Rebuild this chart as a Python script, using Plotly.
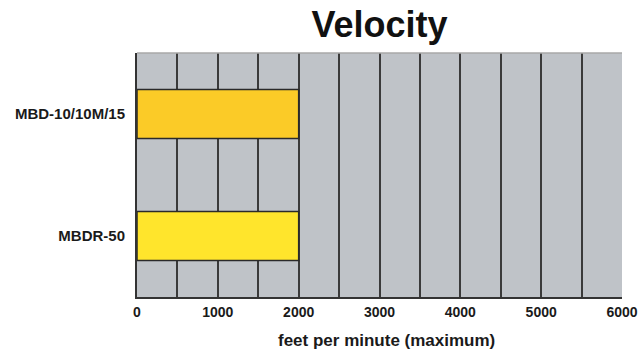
import plotly.graph_objects as go

categories = ["MBD-10/10M/15", "MBDR-50"]
velocity = [2000, 2000]
bar_colors = ["#FBCB27", "#FFE52C"]
x_ticks = [0, 1000, 2000, 3000, 4000, 5000, 6000]

fig = go.Figure()
fig.add_trace(go.Bar(
    y=categories,
    x=velocity,
    orientation="h",
    width=0.4,
    marker=dict(color=bar_colors, line=dict(color="#2a2a2a", width=1.5)),
    hoverinfo="skip",
))

font = "Liberation Sans, Arial, Helvetica, sans-serif"
fig.update_layout(
    width=640, height=354,
    margin=dict(l=137, r=18, t=53, b=57, autoexpand=False),
    paper_bgcolor="white",
    plot_bgcolor="#BFC3C8",
    showlegend=False,
    title=dict(text="<b>Velocity</b>", x=0.5, xref="paper", xanchor="center",
               y=0.93, yanchor="middle", yref="container",
               font=dict(family=font, size=36, color="#111111")),
    xaxis=dict(
        range=[0, 6000],
        tickvals=x_ticks,
        ticktext=["<b>%d</b>" % v for v in x_ticks],
        showgrid=True,
        gridcolor="#3a3a3a",
        gridwidth=1.5,
        minor=dict(dtick=500, tick0=0, showgrid=True, gridcolor="#3a3a3a", gridwidth=1.5),
        showline=True, linecolor="#333333", linewidth=2,
        ticks="", zeroline=False, automargin=False,
        ticklabelstandoff=1,
        tickfont=dict(family=font, size=14, color="#1a1a1a"),
        fixedrange=True,
    ),
    yaxis=dict(
        categoryorder="array", categoryarray=categories,
        autorange="reversed",
        showgrid=False, zeroline=False, automargin=False,
        showline=True, linecolor="#333333", linewidth=2,
        ticks="", ticklabelstandoff=7,
        tickvals=categories,
        ticktext=["<b>%s</b>" % c for c in categories],
        tickfont=dict(family=font, size=15, color="#1a1a1a"),
        fixedrange=True,
    ),
    shapes=[dict(type="line", xref="paper", yref="paper", x0=0, x1=1, y0=1, y1=1,
                 line=dict(color="#A8A8A8", width=1.5))],
    annotations=[dict(text="<b>feet per minute (maximum)</b>", xref="paper", yref="paper",
                      x=0.514, y=-0.18, xanchor="center", yanchor="middle", showarrow=False,
                      font=dict(family=font, size=17, color="#1a1a1a"))],
)

fig.write_html("out.html")
